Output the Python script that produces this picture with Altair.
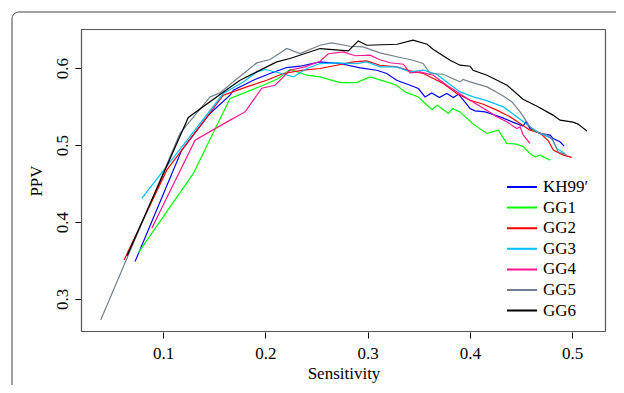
import altair as alt
import pandas as pd

series_names = ["KH99\u2032", "GG1", "GG2", "GG3", "GG4", "GG5", "GG6"]
series_colors = ["#0000FF", "#00FF00", "#FF0000", "#00BFFF", "#FF1493", "#708090", "#000000"]

kh99_x = [0.0726, 0.1183, 0.1459, 0.1655, 0.1687, 0.1883, 0.2046, 0.2209, 0.2339, 0.2535, 0.2730, 0.2926,
          0.3089, 0.3187, 0.3284, 0.3415, 0.3496, 0.3561, 0.3627, 0.3701, 0.3773, 0.3838, 0.3887, 0.3936,
          0.4001, 0.4050, 0.4148, 0.4294, 0.4412, 0.4519, 0.4548, 0.4587, 0.4685, 0.4783, 0.4812, 0.4881, 0.4920]
kh99_y = [0.3485, 0.4935, 0.5412, 0.5649, 0.5714, 0.5844, 0.5931, 0.6009, 0.6026, 0.6082, 0.6061, 0.6004,
          0.5974, 0.5931, 0.5844, 0.5779, 0.5736, 0.5627, 0.5679, 0.5619, 0.5671, 0.5619, 0.5662, 0.5584,
          0.5477, 0.5445, 0.5432, 0.5368, 0.5303, 0.5247, 0.5303, 0.5217, 0.5152, 0.5130, 0.5087, 0.5043, 0.4987]

gg1_x = [0.0759, 0.1296, 0.1655, 0.1818, 0.1980, 0.2127, 0.2241, 0.2405, 0.2535, 0.2730, 0.2893, 0.3023,
         0.3153, 0.3284, 0.3366, 0.3496, 0.3529, 0.3627, 0.3681, 0.3789, 0.3832, 0.3903, 0.4033, 0.4164,
         0.4278, 0.4360, 0.4458, 0.4522, 0.4587, 0.4636, 0.4685, 0.4783]
gg1_y = [0.3601, 0.4632, 0.5606, 0.5692, 0.5779, 0.5866, 0.5983, 0.5909, 0.5887, 0.5814, 0.5814, 0.5887,
         0.5835, 0.5779, 0.5692, 0.5627, 0.5584, 0.5464, 0.5519, 0.5412, 0.5477, 0.5432, 0.5273, 0.5152,
         0.5195, 0.5022, 0.5013, 0.4978, 0.4892, 0.4848, 0.4870, 0.4805]

gg2_x = [0.0619, 0.1036, 0.1589, 0.1818, 0.2014, 0.2176, 0.2371, 0.2535, 0.2698, 0.2860, 0.2991, 0.3121,
         0.3284, 0.3415, 0.3545, 0.3642, 0.3740, 0.3871, 0.4001, 0.4131, 0.4262, 0.4392, 0.4490, 0.4587,
         0.4685, 0.4766, 0.4815, 0.4913, 0.4995]
gg2_y = [0.3506, 0.4675, 0.5649, 0.5757, 0.5844, 0.5931, 0.5974, 0.5996, 0.6039, 0.6082, 0.6095, 0.6039,
         0.6017, 0.5965, 0.5931, 0.5866, 0.5801, 0.5671, 0.5584, 0.5532, 0.5455, 0.5368, 0.5282, 0.5195,
         0.5160, 0.5056, 0.4935, 0.4870, 0.4840]

gg3_x = [0.0792, 0.1589, 0.1785, 0.1916, 0.1997, 0.2160, 0.2274, 0.2405, 0.2535, 0.2698, 0.2893, 0.2991,
         0.3121, 0.3284, 0.3415, 0.3545, 0.3676, 0.3773, 0.3903, 0.4033, 0.4164, 0.4327, 0.4458, 0.4587,
         0.4685, 0.4800, 0.4848, 0.4930]
gg3_y = [0.4308, 0.5671, 0.5822, 0.5952, 0.5983, 0.5931, 0.5887, 0.5996, 0.6061, 0.6069, 0.6061, 0.6082,
         0.6017, 0.6017, 0.5952, 0.5974, 0.5922, 0.5822, 0.5692, 0.5627, 0.5578, 0.5497, 0.5368, 0.5238,
         0.5152, 0.5087, 0.4957, 0.4892]

gg4_x = [0.0890, 0.1313, 0.1655, 0.1802, 0.1965, 0.2095, 0.2241, 0.2388, 0.2535, 0.2616, 0.2762, 0.2877,
         0.3023, 0.3121, 0.3219, 0.3349, 0.3415, 0.3512, 0.3642, 0.3773, 0.3871, 0.4001, 0.4164, 0.4262,
         0.4360, 0.4458, 0.4490, 0.4522, 0.4587]
gg4_y = [0.3918, 0.5065, 0.5325, 0.5432, 0.5740, 0.5779, 0.5974, 0.6017, 0.6091, 0.6188, 0.6212, 0.6162,
         0.6169, 0.6110, 0.6071, 0.6052, 0.5939, 0.5952, 0.5909, 0.5779, 0.5695, 0.5584, 0.5455, 0.5368,
         0.5303, 0.5217, 0.5238, 0.5130, 0.5022]

gg5_x = [0.0391, 0.1166, 0.1459, 0.1557, 0.1684, 0.1916, 0.2046, 0.2144, 0.2209, 0.2339, 0.2535, 0.2649,
         0.2828, 0.2955, 0.3121, 0.3317, 0.3444, 0.3542, 0.3610, 0.3737, 0.3903, 0.3933, 0.4001, 0.4167,
         0.4314, 0.4412, 0.4490, 0.4588, 0.4636, 0.4754, 0.4812, 0.4861, 0.4949]
gg5_y = [0.2727, 0.5152, 0.5627, 0.5679, 0.5822, 0.6069, 0.6113, 0.6199, 0.6256, 0.6191, 0.6299, 0.6329,
         0.6286, 0.6277, 0.6199, 0.6139, 0.6104, 0.6061, 0.5931, 0.5922, 0.5822, 0.5853, 0.5822, 0.5757,
         0.5649, 0.5562, 0.5432, 0.5238, 0.5173, 0.5130, 0.5065, 0.4913, 0.4870]

gg6_x = [0.0648, 0.1247, 0.1638, 0.1753, 0.2111, 0.2241, 0.2535, 0.2811, 0.2909, 0.2991, 0.3287, 0.3444,
         0.3581, 0.3639, 0.3806, 0.3903, 0.4001, 0.4030, 0.4167, 0.4363, 0.4519, 0.4656, 0.4812, 0.4881,
         0.5008, 0.5057, 0.5145]
gg6_y = [0.3560, 0.5360, 0.5736, 0.5844, 0.6082, 0.6126, 0.6256, 0.6225, 0.6355, 0.6299, 0.6312, 0.6364,
         0.6312, 0.6247, 0.6104, 0.6039, 0.6026, 0.5974, 0.5909, 0.5779, 0.5597, 0.5506, 0.5390, 0.5325,
         0.5299, 0.5273, 0.5182]

x_domain = [0.0198, 0.533]
y_domain = [0.257, 0.651]

all_x = [kh99_x, gg1_x, gg2_x, gg3_x, gg4_x, gg5_x, gg6_x]
all_y = [kh99_y, gg1_y, gg2_y, gg3_y, gg4_y, gg5_y, gg6_y]

rows = []
for name, xs, ys in zip(series_names, all_x, all_y):
    for i, (xv, yv) in enumerate(zip(xs, ys)):
        rows.append({"series": name, "Sensitivity": xv, "PPV": yv, "idx": i})
df = pd.DataFrame(rows)

FONT = "Liberation Serif"
W, H = 525, 303
BOX = "#555555"

xscale = alt.Scale(domain=x_domain, nice=False, zero=False)
yscale = alt.Scale(domain=y_domain, nice=False, zero=False)

lines = alt.Chart(df).mark_line(strokeWidth=1.2).encode(
    x=alt.X("Sensitivity:Q", scale=xscale,
            axis=alt.Axis(values=[0.1, 0.2, 0.3, 0.4, 0.5], format=".1f", grid=False, domain=False,
                          ticks=True, tickSize=6, tickWidth=1, tickColor="#000000", labelPadding=7, titlePadding=4,
                          labelFont=FONT, labelFontSize=17, titleFont=FONT, titleFontSize=17,
                          titleFontWeight="normal", labelColor="#000000", titleColor="#000000")),
    y=alt.Y("PPV:Q", scale=yscale,
            axis=alt.Axis(values=[0.3, 0.4, 0.5, 0.6], format=".1f", grid=False, domain=False,
                          ticks=True, tickSize=6, tickWidth=1, tickColor="#000000", labelAngle=-90, labelAlign="center",
                          labelBaseline="bottom", labelPadding=4, titlePadding=8,
                          labelFont=FONT, labelFontSize=17, titleFont=FONT, titleFontSize=17,
                          titleFontWeight="normal", labelColor="#000000", titleColor="#000000")),
    color=alt.Color("series:N",
                    scale=alt.Scale(domain=series_names, range=series_colors),
                    legend=alt.Legend(title=None, orient="none", legendX=425, legendY=150,
                                      symbolType="stroke", symbolSize=900, symbolStrokeWidth=2,
                                      clipHeight=16, rowPadding=3.6, labelOffset=5, padding=0,
                                      labelFont=FONT, labelFontSize=17, labelFontWeight="normal",
                                      labelColor="#000000")),
    order="idx:Q",
)

edge_df = pd.DataFrame({"k": [0]})
plot_box = alt.Chart(edge_df).mark_rect(filled=False, stroke=BOX, strokeWidth=1.2, cornerRadius=0.5).encode(
    x=alt.value(0.5), x2=alt.value(W - 0.5), y=alt.value(0.5), y2=alt.value(H - 0.5)
)

outer_frame = alt.Chart(edge_df).mark_rect(filled=False, stroke="#444444", strokeWidth=1, cornerRadius=7).encode(
    x=alt.value(-69), x2=alt.value(560), y=alt.value(-17), y2=alt.value(380)
)

chart = alt.layer(outer_frame, plot_box, lines).properties(
    width=W, height=H,
    background="#ffffff",
    padding={"left": 73, "top": 21, "right": 10, "bottom": 53},
    autosize=alt.AutoSizeParams(type="none"),
).configure(
    font=FONT
).configure_view(stroke="transparent")

chart.save("out.html", embed_options={"renderer": "svg", "actions": False})
